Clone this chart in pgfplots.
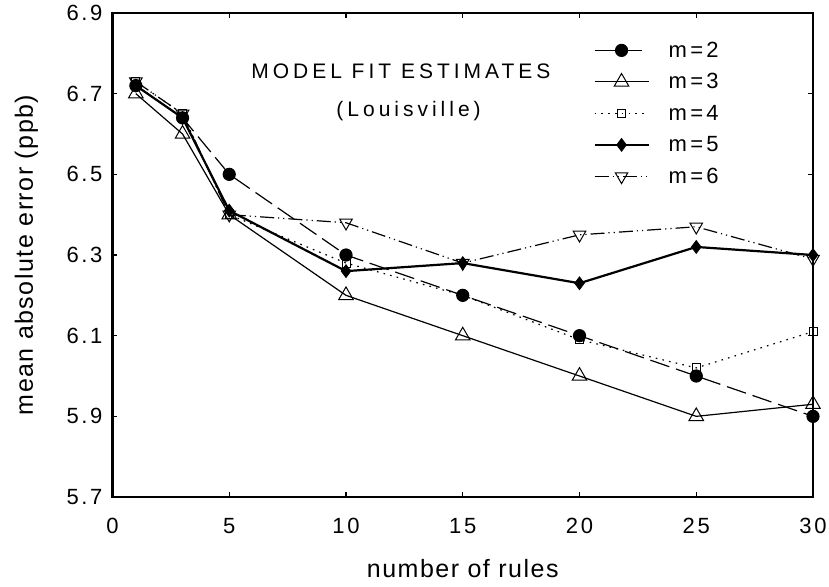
\documentclass[border=0pt]{standalone}
\usepackage{fontspec}
\setmainfont{Liberation Sans}
\newfontfamily\tickfont[LetterSpace=12]{Liberation Sans}
\newfontfamily\titlefont[LetterSpace=19]{Liberation Sans}
\newfontfamily\legfont[LetterSpace=15]{Liberation Sans}
\newfontfamily\labfont[LetterSpace=6]{Liberation Sans}
\usepackage{pgfplots}
\pgfplotsset{compat=1.18}
\begin{document}
\begin{tikzpicture}
\begin{axis}[
  scale only axis,
  width=350.25pt, height=242pt,
  xmin=0, xmax=30, ymin=5.7, ymax=6.9,
  xtick={0,5,...,30},
  ytick={5.7,5.9,6.1,6.3,6.5,6.7,6.9},
  yticklabel style={/pgf/number format/fixed,/pgf/number format/fixed zerofill,/pgf/number format/precision=1, xshift=-1.5pt},
  /pgf/number format/assume math mode=true,
  tick label style={font=\fontsize{11}{13}\tickfont},
  tick align=inside,
  major tick length=2.5pt,
  tick style={black, line width=0.6pt},
  axis line style={line width=1.4pt},
  xticklabel style={yshift=-7pt},
  xlabel={number of rules},
  ylabel={mean absolute error (ppb)},
  xlabel style={at={(axis description cs:0.5,0)}, anchor=base, yshift=-40pt, font=\fontsize{12.5}{14}\labfont},
  ylabel style={at={(axis description cs:-0.1135,0.5)}, anchor=base, font=\fontsize{12.5}{14}\labfont},
  legend style={at={(axis cs:20.58,6.8306)}, anchor=north west, draw=none, fill=none, inner sep=0pt,
    row sep=7.75pt, column sep=9.5pt, font=\fontsize{11}{13}\legfont,
    nodes={inner sep=0pt, text height=8pt, text depth=0pt}, cells={anchor=base west}},
  legend image code/.code={\draw[mark repeat=2,mark phase=2] plot coordinates {(0pt,3.5pt) (13.5pt,3.5pt) (27pt,3.5pt)};},
  clip=false,
]
\addplot[black, line width=0.6pt, dash pattern=on 10pt off 3.5pt, mark=*, mark size=3pt, mark options={solid}]
  coordinates {(1,6.72) (3,6.64) (5,6.50) (10,6.30) (15,6.20) (20,6.10) (25,6.00) (30,5.90)};
\addlegendentry{m=2}
\addplot[black, line width=0.6pt, mark=triangle, mark size=4.2pt, mark options={solid, fill=white, line width=0.5pt}]
  coordinates {(1,6.70) (3,6.60) (5,6.40) (10,6.20) (15,6.10) (20,6.00) (25,5.90) (30,5.93)};
\addlegendentry{m=3}
\addplot[black, line width=0.6pt, dash pattern=on 0.8pt off 2.6pt, mark=square, mark size=2pt, mark options={solid, fill=white, line width=0.5pt}]
  coordinates {(1,6.73) (3,6.65) (5,6.40) (10,6.28) (15,6.20) (20,6.09) (25,6.02) (30,6.11)};
\addlegendentry{m=4}
\addplot[black, line width=1.1pt, mark=diamond*, mark size=3.2pt, mark options={solid, line width=0.4pt}]
  coordinates {(1,6.72) (3,6.64) (5,6.41) (10,6.26) (15,6.28) (20,6.23) (25,6.32) (30,6.30)};
\addlegendentry{m=5}
\addplot[black, line width=0.6pt, dash pattern=on 7pt off 2pt on 0.6pt off 2pt on 0.6pt off 2pt, mark=triangle, mark size=3.6pt, mark options={solid, rotate=180, fill=white, line width=0.5pt}]
  coordinates {(1,6.73) (3,6.65) (5,6.40) (10,6.38) (15,6.28) (20,6.35) (25,6.37) (30,6.29)};
\addlegendentry{m=6}
\node[anchor=base, inner sep=0pt, font=\fontsize{10.5}{12}\titlefont] at (axis cs:12.35,6.7376) {MODEL FIT ESTIMATES};
\node[anchor=base, inner sep=0pt, font=\fontsize{10.5}{12}\titlefont] at (axis cs:12.68,6.643) {(Louisville)};
\end{axis}
\pgfresetboundingbox
\path[use as bounding box] (-56.25pt,-44.5pt) rectangle (358.25pt,248.5pt);
\end{tikzpicture}
\end{document}
